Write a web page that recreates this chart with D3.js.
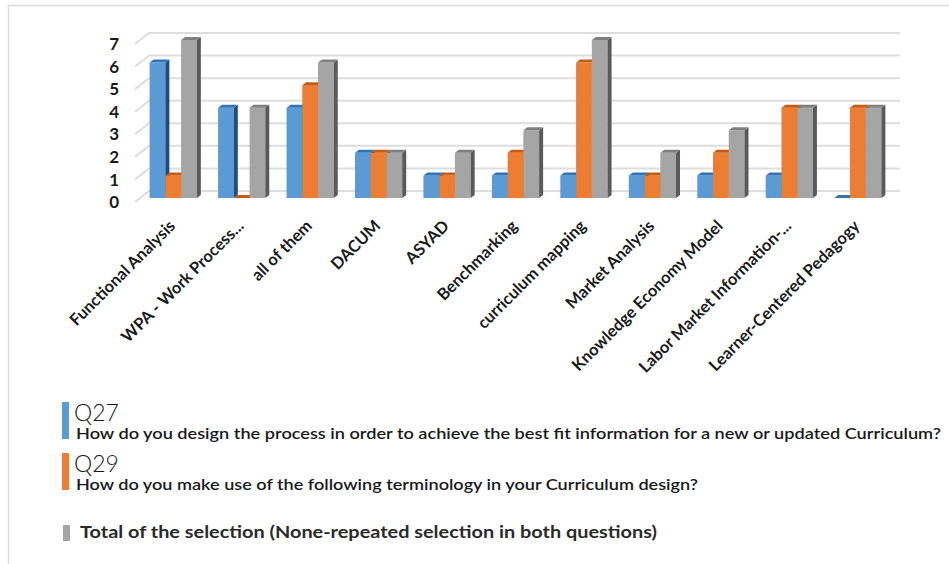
<!DOCTYPE html>
<html>
<head>
<meta charset="utf-8">
<script src="https://cdn.jsdelivr.net/npm/d3@7"></script>
<style>
  body { margin: 0; background: #fff; }
  svg { display: block; font-family: Lato, "Open Sans", sans-serif; }
</style>
</head>
<body>
<div id="chart"></div>
<script>
// data
var categories = ["Functional Analysis", "WPA - Work Process...", "all of them", "DACUM", "ASYAD",
  "Benchmarking", "curriculum mapping", "Market Analysis", "Knowledge Economy Model",
  "Labor Market Information-...", "Learner-Centered Pedagogy"];
var q27 = [6, 4, 4, 2, 1, 1, 1, 1, 1, 1, 0];
var q29 = [1, 0, 5, 2, 1, 2, 6, 1, 2, 4, 4];
var total = [7, 4, 6, 2, 2, 3, 7, 2, 3, 4, 4];
var seriesNames = ["Q27", "Q29", "Total"];
var yTicks = [0, 1, 2, 3, 4, 5, 6, 7];

var svgWidth = 949;
var svgHeight = 564;

// colours for front / top / side faces
var colors = {
  Q27: {front: "#5b9bd5", top: "#2e75b6", side: "#1f4e79"},
  Q29: {front: "#ed7d31", top: "#c55a11", side: "#9c4610"},
  Total: {front: "#a5a5a5", top: "#7f7f7f", side: "#5a5a5a"}
};

var svg = d3.select("#chart")
  .append("svg")
  .attr("width", svgWidth)
  .attr("height", svgHeight);

// light frame
svg.append("path")
  .attr("d", "M8.5," + svgHeight + "V5.5H" + svgWidth)
  .attr("fill", "none")
  .attr("stroke", "#dcdcdc")
  .attr("stroke-width", 1.5);

var x = d3.scaleBand()
  .domain(categories)
  .range([139, 892])
  .paddingInner(0.31)
  .paddingOuter(0.155);

var xSub = d3.scaleBand()
  .domain(seriesNames)
  .range([0, x.bandwidth()]);

var y = d3.scaleLinear()
  .domain([0, 7])
  .range([198, 40]);

var depthX = 4, depthY = -3;

// gridlines: side wall diagonal + back wall
var grid = svg.append("g");
yTicks.forEach(function(t) {
  var yb = y(t) - 7;
  grid.append("path")
    .attr("d", "M135," + (y(t) + 4) + "L149," + yb + "H900")
    .attr("fill", "none")
    .attr("stroke", "#dddddd")
    .attr("stroke-width", 2);
});

// y labels
svg.append("g")
  .selectAll("text")
  .data(yTicks)
  .join("text")
  .attr("x", 119)
  .attr("y", d => y(d) + 4)
  .attr("dy", "0.36em")
  .attr("text-anchor", "end")
  .style("font-size", "17px")
  .style("font-weight", "bold")
  .style("fill", "#1a1a1a")
  .text(d => d);

// bars
var rows = categories.map(function(c, i) {
  return [
    {cat: c, key: "Q27", value: q27[i]},
    {cat: c, key: "Q29", value: q29[i]},
    {cat: c, key: "Total", value: total[i]}
  ];
});

var groups = svg.append("g")
  .selectAll("g")
  .data(rows)
  .join("g");

var bar = groups.selectAll("g")
  .data(d => d)
  .join("g");

bar.each(function(d) {
  var g = d3.select(this);
  var x0 = x(d.cat) + xSub(d.key);
  var w = xSub.bandwidth();
  var yt = y(d.value);
  var y0 = y(0);
  var c = colors[d.key];
  if (d.value > 0) {
    g.append("rect")
      .attr("x", x0)
      .attr("y", yt)
      .attr("width", w)
      .attr("height", y0 - yt)
      .attr("fill", c.front);
    g.append("path")
      .attr("d", "M" + (x0 + w) + "," + yt + "l" + depthX + "," + depthY + "V" + (y0 + depthY) + "l" + (-depthX) + "," + (-depthY) + "Z")
      .attr("fill", c.side);
  }
  g.append("path")
    .attr("d", "M" + x0 + "," + yt + "l" + depthX + "," + depthY + "h" + w + "l" + (-depthX) + "," + (-depthY) + "Z")
    .attr("fill", c.top);
});

// category labels
svg.append("g")
  .selectAll("text")
  .data(categories)
  .join("text")
  .attr("transform", d => "translate(" + (x(d) + x.bandwidth() / 2 + 3) + ",227) rotate(-45)")
  .attr("text-anchor", "end")
  .style("font-size", "16.5px")
  .style("font-weight", "bold")
  .style("fill", "#1a1a1a")
  .text(d => d);

// legend
var legend = [
  {key: "Q27", title: "Q27", text: "How do you design the process in order to achieve the best fit information for a new or updated Curriculum?", top: 402, len: 865},
  {key: "Q29", title: "Q29", text: "How do you make use of the following terminology in your Curriculum design?", top: 453, len: 622}
];

legend.forEach(function(l) {
  svg.append("rect")
    .attr("x", 62)
    .attr("y", l.top)
    .attr("width", 7)
    .attr("height", 37)
    .attr("fill", colors[l.key].front);
  svg.append("text")
    .attr("x", 74)
    .attr("y", l.top + 19)
    .style("font-size", "23px")
    .style("font-weight", 300)
    .style("fill", "#1a1a1a")
    .text(l.title);
  svg.append("text")
    .attr("x", 76)
    .attr("y", l.top + 37)
    .attr("textLength", l.len)
    .attr("lengthAdjust", "spacingAndGlyphs")
    .style("font-size", "15px")
    .style("font-weight", 600)
    .style("fill", "#1a1a1a")
    .text(l.text);
});

svg.append("rect")
  .attr("x", 63)
  .attr("y", 525)
  .attr("width", 7)
  .attr("height", 16)
  .attr("fill", colors.Total.front);

svg.append("text")
  .attr("x", 80)
  .attr("y", 538)
  .attr("textLength", 577)
  .attr("lengthAdjust", "spacingAndGlyphs")
  .style("font-size", "17px")
  .style("font-weight", "bold")
  .style("fill", "#2a2a2a")
  .text("Total of the selection (None-repeated selection in both questions)");
</script>
</body>
</html>
